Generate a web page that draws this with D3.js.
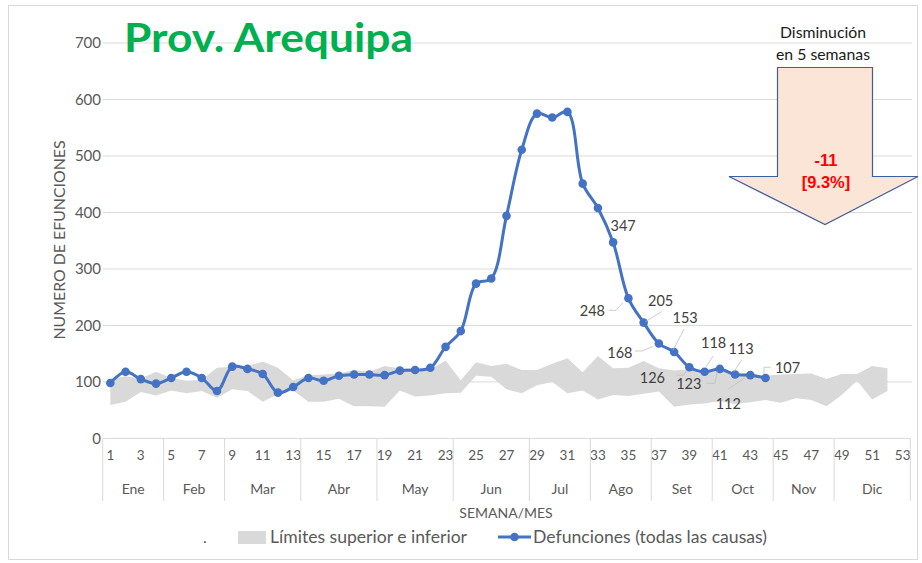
<!DOCTYPE html>
<html>
<head>
<meta charset="utf-8">
<script src="https://cdn.jsdelivr.net/npm/d3@7"></script>
<style>
  html, body { margin: 0; padding: 0; background: #fff; }
  svg { display: block; font-family: Lato, "Noto Sans", sans-serif; }
</style>
</head>
<body>
<svg id="chart" width="922" height="563"></svg>
<script>
// Weekly deaths (all causes), Prov. Arequipa
const weeks = d3.range(1, 54);
const deathWeeks = d3.range(1, 45);
const deaths = [98, 118, 105, 97, 107, 118, 107, 84, 127, 123, 114, 81, 91, 107, 102, 111, 113, 113, 112, 120,
                121, 125, 162, 190, 274, 283, 394, 511, 575, 568, 578, 451, 408, 347, 248, 205, 168, 153, 126, 118,
                123, 113, 112, 107];

// Historical band (weeks 1-52)
const bandWeeks = d3.range(1, 53);
const upperLimit = [105, 110, 106, 118, 107, 102, 104, 125, 127, 128, 136, 125, 103, 112, 113, 115, 121, 118, 128, 124,
                    124, 122, 138, 103, 135, 128, 132, 121, 121, 132, 142, 117, 146, 124, 125, 137, 124, 120, 122, 118,
                    120, 115, 112, 111, 113, 114, 115, 105, 114, 114, 128, 124];
const lowerLimit = [59, 65, 82, 76, 85, 80, 84, 72, 87, 84, 65, 78, 85, 65, 65, 70, 57, 57, 56, 85,
                    74, 76, 80, 81, 111, 109, 87, 80, 94, 100, 80, 85, 69, 77, 75, 79, 83, 56, 60, 62,
                    66, 61, 64, 68, 63, 71, 68, 57, 77, 102, 69, 84];

const months = ["Ene", "Feb", "Mar", "Abr", "May", "Jun", "Jul", "Ago", "Set", "Oct", "Nov", "Dic"];
const monthWeeks = [4, 4, 5, 5, 5, 5, 4, 4, 4, 4, 4, 5];
const yTicks = [0, 100, 200, 300, 400, 500, 600, 700];
const weekTicks = weeks.filter(w => w % 2 === 1);
const labeledWeeks = d3.range(34, 45);

const svg = d3.select("#chart");
const textColor = "#595959";

// outer frame
svg.append("rect").attr("x", 8.5).attr("y", 5.5).attr("width", 909).attr("height", 554)
  .attr("fill", "#fff").attr("stroke", "#d9d9d9");

const x = d3.scaleBand().domain(weeks).range([102.7, 910.3]).padding(0);
const cx = w => x(w) + x.bandwidth() / 2;
const y = d3.scaleLinear().domain([0, 700]).range([438.4, 43]);

// gridlines
svg.append("g").selectAll("line").data(yTicks.slice(1)).join("line")
  .attr("x1", 102.7).attr("x2", 912).attr("y1", d => y(d)).attr("y2", d => y(d))
  .attr("stroke", "#d9d9d9").attr("stroke-width", 1);

// y tick labels
const yAxis = svg.append("g").attr("transform", "translate(102,0)")
  .call(d3.axisLeft(y).tickValues(yTicks).tickSize(0).tickPadding(1));
yAxis.select(".domain").remove();
yAxis.selectAll("text").attr("font-size", 15).attr("fill", textColor).attr("font-family", "Lato, sans-serif");

// y title
svg.append("text").attr("transform", "translate(65,240) rotate(-90)")
  .attr("text-anchor", "middle").attr("font-size", 14.5).attr("fill", textColor)
  .attr("textLength", 199).attr("lengthAdjust", "spacingAndGlyphs")
  .text("NUMERO DE EFUNCIONES");

// band of upper / lower limits
const bandData = bandWeeks.map((w, i) => ({ w, lo: lowerLimit[i], hi: upperLimit[i] }));
svg.append("path").datum(bandData)
  .attr("fill", "#d9d9d9")
  .attr("d", d3.area().x(d => cx(d.w)).y0(d => y(d.lo)).y1(d => y(d.hi)));

// x axis line
svg.append("line").attr("x1", 102.7).attr("x2", 910.3).attr("y1", y(0)).attr("y2", y(0))
  .attr("stroke", "#d9d9d9");

// week labels
const xAxis = svg.append("g").attr("transform", `translate(0,${y(0)})`)
  .call(d3.axisBottom(x).tickValues(weekTicks).tickSize(0).tickPadding(12));
xAxis.select(".domain").remove();
xAxis.selectAll("text").attr("font-size", 13.5).attr("fill", textColor).attr("font-family", "Lato, sans-serif");

// month separators and labels
let start = 1;
const monthSpans = months.map((m, i) => {
  const s = start; start += monthWeeks[i];
  return { m, first: s, last: s + monthWeeks[i] - 1 };
});
const sepX = [x(1)].concat(monthSpans.map(d => x(d.last) + x.bandwidth()));
svg.append("g").selectAll("line").data(sepX).join("line")
  .attr("x1", d => d).attr("x2", d => d).attr("y1", y(0)).attr("y2", 501)
  .attr("stroke", "#d9d9d9");
svg.append("g").selectAll("text").data(monthSpans).join("text")
  .attr("x", d => (x(d.first) + x(d.last) + x.bandwidth()) / 2)
  .attr("y", 494).attr("text-anchor", "middle")
  .attr("font-size", 14).attr("fill", textColor).text(d => d.m);

svg.append("text").attr("x", 506).attr("y", 518).attr("text-anchor", "middle")
  .attr("font-size", 14).attr("fill", textColor).text("SEMANA/MES");

// deaths line
const blue = "#4472c4";
const series = deathWeeks.map((w, i) => ({ w, v: deaths[i] }));
svg.append("path").datum(series)
  .attr("fill", "none").attr("stroke", blue).attr("stroke-width", 3)
  .attr("stroke-linejoin", "round")
  .attr("d", d3.line().x(d => cx(d.w)).y(d => y(d.v)).curve(d3.curveCatmullRom.alpha(0.5)));
svg.append("g").selectAll("circle").data(series).join("circle")
  .attr("cx", d => cx(d.w)).attr("cy", d => y(d.v)).attr("r", 4.3).attr("fill", blue);

// data labels with leader lines (offsets relative to each marker)
const labelLayout = {
  34: { dx: 10, dy: -17, leader: null },
  35: { dx: -36, dy: 12, leader: [[-19.5, 12], [-12.5, 12], [-5.5, 4.5]] },
  36: { dx: 17, dy: -22, leader: [[2, -1], [18, -11]] },
  37: { dx: -39, dy: 8.5, leader: [[-24, 7.5], [-17, 7.5], [-6, 3]] },
  38: { dx: 11, dy: -34, leader: [[-1, -2], [10, -23]] },
  39: { dx: -37, dy: 10, leader: [[-12.7, 8], [-5.4, 8], [-2.7, 3]] },
  40: { dx: 9, dy: -29, leader: [[1.3, -4.4], [8.6, -15.7]] },
  41: { dx: -31, dy: 15, leader: [[-14, 14.4], [-5, 14.4], [-2.6, 2.8]] },
  42: { dx: 6, dy: -26, leader: [[-1, -3], [6.5, -14.6]] },
  43: { dx: -22, dy: 28, leader: [[-22, 14], [-5.4, 2.6]] },
  44: { dx: 22, dy: -10, leader: [[-1.6, -4], [-1.6, -10.7], [5, -10.7]] }
};
const labeled = series.filter(d => labeledWeeks.includes(d.w));
const lg = svg.append("g");
labeled.forEach(d => {
  const L = labelLayout[d.w];
  const px = cx(d.w), py = y(d.v);
  if (L.leader) {
    lg.append("polyline")
      .attr("points", L.leader.map(p => [px + p[0], py + p[1]].join(",")).join(" "))
      .attr("fill", "none").attr("stroke", "#bfbfbf").attr("stroke-width", 0.8);
  }
  lg.append("text").attr("x", px + L.dx).attr("y", py + L.dy)
    .attr("text-anchor", "middle").attr("dominant-baseline", "central")
    .attr("font-size", 14.5).attr("fill", "#404040").text(d.v);
});

// title
svg.append("text").attr("x", 124).attr("y", 52)
  .attr("font-size", 41).attr("font-weight", "bold").attr("fill", "#00b050")
  .attr("textLength", 289).attr("lengthAdjust", "spacingAndGlyphs")
  .text("Prov. Arequipa");

// decrease arrow
const arrow = [[777.5, 67.5], [872.5, 67.5], [872.5, 176.5], [918, 176.5], [825, 224.5], [729, 176.5], [777.5, 176.5]];
svg.append("path").attr("d", "M" + arrow.map(p => p.join(",")).join("L") + "Z")
  .attr("fill", "#fbe5d6").attr("stroke", "#3f5f9a").attr("stroke-width", 1.2);
svg.append("text").attr("x", 823).attr("y", 38).attr("text-anchor", "middle")
  .attr("font-size", 15).attr("fill", "#1a1a1a")
  .attr("textLength", 86).attr("lengthAdjust", "spacingAndGlyphs").text("Disminución");
svg.append("text").attr("x", 823).attr("y", 60).attr("text-anchor", "middle")
  .attr("font-size", 15).attr("fill", "#1a1a1a")
  .attr("textLength", 94).attr("lengthAdjust", "spacingAndGlyphs").text("en 5 semanas");
const decrease = -11, decreasePct = "9.3%";
svg.append("text").attr("x", 826).attr("y", 166).attr("text-anchor", "middle")
  .attr("font-family", "'Liberation Sans', Arial, sans-serif")
  .attr("font-size", 16.5).attr("font-weight", "bold").attr("fill", "#ff0000").text(decrease);
svg.append("text").attr("x", 826).attr("y", 188).attr("text-anchor", "middle")
  .attr("font-family", "'Liberation Sans', Arial, sans-serif")
  .attr("font-size", 16.5).attr("font-weight", "bold").attr("fill", "#ff0000").text(`[${decreasePct}]`);

// legend
const legend = svg.append("g");
legend.append("text").attr("x", 203).attr("y", 543).attr("font-size", 16).attr("fill", textColor).text(".");
legend.append("rect").attr("x", 238).attr("y", 531).attr("width", 28).attr("height", 13).attr("fill", "#d9d9d9");
legend.append("text").attr("x", 270).attr("y", 543).attr("font-size", 17).attr("fill", textColor)
  .attr("textLength", 197).attr("lengthAdjust", "spacingAndGlyphs")
  .text("Límites superior e inferior");
legend.append("line").attr("x1", 498).attr("x2", 531).attr("y1", 537).attr("y2", 537)
  .attr("stroke", blue).attr("stroke-width", 3);
legend.append("circle").attr("cx", 514.5).attr("cy", 537).attr("r", 4.3).attr("fill", blue);
legend.append("text").attr("x", 533).attr("y", 543).attr("font-size", 17).attr("fill", textColor)
  .attr("textLength", 234).attr("lengthAdjust", "spacingAndGlyphs")
  .text("Defunciones (todas las causas)");
</script>
</body>
</html>
